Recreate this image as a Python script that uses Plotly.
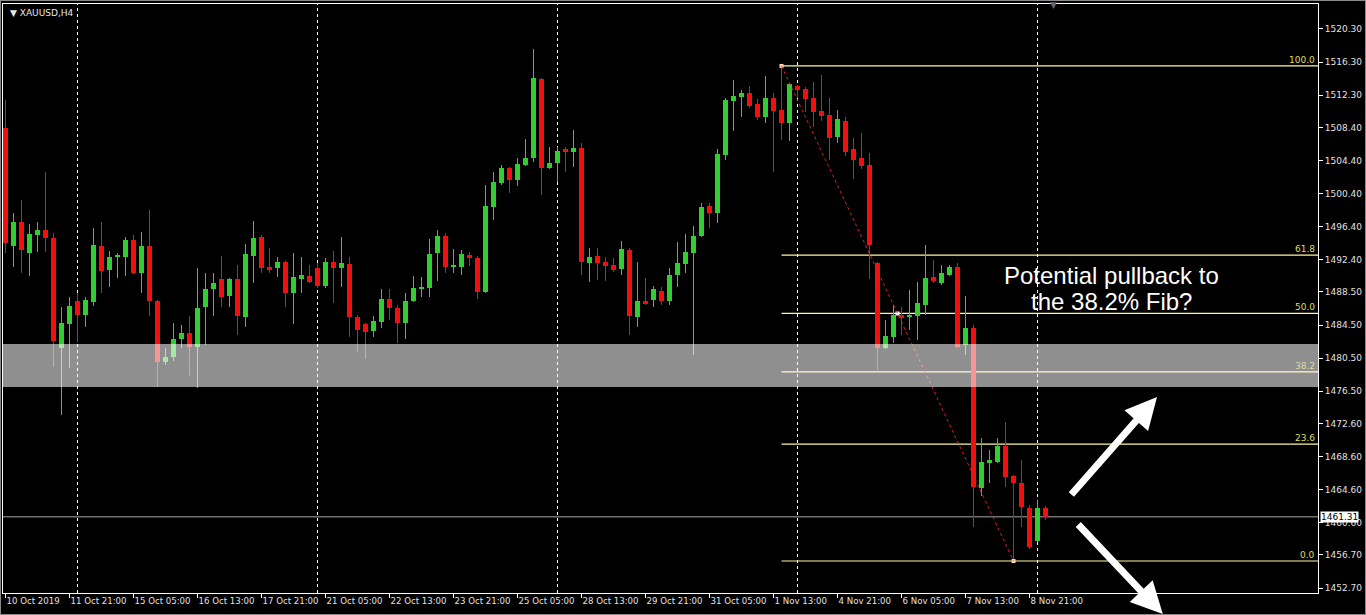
import plotly.graph_objects as go

# ---------------- data (XAUUSD H4) ----------------
opens = [1508.33, 1494.06, 1496.96, 1493.21, 1495.39, 1495.99, 1495.03, 1481.73, 1484.63, 1487.41,
         1485.72, 1487.29, 1494.06, 1491.16, 1492.73, 1492.73, 1494.79, 1490.80, 1494.06, 1487.41,
         1480.03, 1480.64, 1482.82, 1483.54, 1481.85, 1486.68, 1488.86, 1490.07, 1488.01, 1490.07,
         1485.48, 1492.85, 1495.15, 1491.52, 1491.40, 1492.12, 1488.38, 1490.07, 1490.43, 1491.40,
         1489.22, 1492.12, 1491.40, 1491.88, 1485.48, 1484.63, 1483.78, 1484.87, 1487.65, 1486.56,
         1484.75, 1487.41, 1488.86, 1488.98, 1493.21, 1495.27, 1491.52, 1491.52, 1492.97, 1492.61,
         1488.50, 1498.78, 1501.68, 1503.49, 1502.04, 1503.86, 1504.70, 1514.25, 1503.49, 1504.10,
         1505.79, 1505.43, 1505.91, 1492.00, 1492.85, 1492.12, 1491.76, 1491.28, 1493.58, 1485.48,
         1487.41, 1487.53, 1488.62, 1487.41, 1490.55, 1491.88, 1493.21, 1495.27, 1498.90, 1498.05,
         1505.06, 1511.59, 1512.08, 1512.56, 1511.23, 1509.66, 1511.96, 1510.50, 1508.93, 1513.41,
         1513.05, 1511.96, 1510.38, 1509.90, 1507.24, 1509.18, 1505.79, 1504.70, 1503.86, 1492.00,
         1481.73, 1483.06, 1485.72, 1485.48, 1485.60, 1486.93, 1490.31, 1489.59, 1490.55, 1491.52,
         1482.09, 1484.14, 1464.80, 1467.82, 1467.94, 1469.88, 1466.25, 1465.40, 1462.38, 1458.39,
         1462.38]
highs = [1511.71, 1498.05, 1499.62, 1496.72, 1496.96, 1503.01, 1495.63, 1486.68, 1487.89, 1488.38,
         1487.89, 1496.24, 1496.96, 1493.46, 1493.21, 1495.15, 1495.39, 1495.75, 1498.41, 1487.53,
         1481.73, 1484.75, 1484.51, 1485.60, 1491.40, 1490.80, 1490.80, 1492.85, 1490.19, 1491.76,
         1494.30, 1497.08, 1495.39, 1493.82, 1492.73, 1492.30, 1493.21, 1492.73, 1491.76, 1492.00,
         1492.61, 1493.46, 1495.15, 1492.73, 1485.72, 1484.75, 1485.60, 1488.86, 1488.86, 1486.93,
         1488.38, 1490.43, 1490.31, 1494.91, 1495.99, 1495.63, 1493.70, 1493.58, 1493.33, 1492.85,
         1501.44, 1503.01, 1503.86, 1503.61, 1504.70, 1507.00, 1517.88, 1514.38, 1506.03, 1506.03,
         1506.03, 1508.09, 1506.51, 1493.82, 1493.82, 1492.73, 1492.61, 1494.67, 1493.82, 1492.12,
         1490.19, 1489.22, 1489.10, 1491.40, 1494.55, 1495.51, 1496.48, 1499.26, 1499.26, 1505.79,
         1511.95, 1514.13, 1512.92, 1513.41, 1511.84, 1514.62, 1512.56, 1515.83, 1513.77, 1513.53,
         1513.29, 1513.89, 1514.74, 1511.96, 1510.50, 1509.66, 1507.12, 1507.72, 1505.31, 1492.12,
         1485.11, 1486.93, 1486.68, 1488.74, 1489.71, 1494.18, 1492.37, 1491.76, 1491.76, 1492.00,
         1488.01, 1484.51, 1470.84, 1469.39, 1470.84, 1472.78, 1466.37, 1468.18, 1462.74, 1463.35,
         1462.62]
lows = [1493.21, 1491.52, 1490.80, 1490.43, 1493.33, 1493.33, 1479.43, 1473.62, 1479.31, 1482.45,
        1484.27, 1486.80, 1488.38, 1489.10, 1490.19, 1490.43, 1490.68, 1488.38, 1485.60, 1477.01,
        1479.67, 1480.15, 1481.73, 1478.34, 1476.89, 1482.09, 1485.60, 1486.68, 1486.68, 1483.30,
        1484.27, 1489.59, 1490.80, 1490.80, 1490.31, 1486.68, 1484.63, 1488.38, 1489.59, 1488.98,
        1488.98, 1487.17, 1489.10, 1483.06, 1481.24, 1480.40, 1483.06, 1484.14, 1485.11, 1482.33,
        1482.82, 1487.29, 1487.89, 1487.89, 1489.83, 1490.80, 1490.80, 1490.55, 1491.64, 1487.65,
        1488.38, 1497.20, 1501.44, 1500.47, 1501.32, 1503.73, 1504.22, 1500.23, 1503.37, 1501.80,
        1503.01, 1503.61, 1490.55, 1489.71, 1489.95, 1489.83, 1490.92, 1490.55, 1483.30, 1484.27,
        1486.93, 1486.68, 1486.93, 1486.93, 1489.10, 1490.80, 1480.88, 1495.15, 1496.24, 1496.84,
        1504.46, 1507.97, 1509.66, 1510.75, 1509.30, 1508.93, 1503.01, 1506.88, 1506.76, 1511.96,
        1510.26, 1508.45, 1509.18, 1504.46, 1506.51, 1504.94, 1502.16, 1503.37, 1490.07, 1479.07,
        1481.60, 1482.33, 1483.30, 1483.90, 1482.69, 1485.72, 1489.59, 1489.35, 1490.43, 1481.73,
        1480.88, 1460.08, 1463.83, 1465.40, 1467.82, 1464.92, 1455.97, 1460.08, 1457.42, 1458.27,
        1460.93]
closes = [1494.42, 1496.96, 1493.58, 1495.50, 1495.99, 1495.03, 1482.57, 1484.75, 1486.80, 1485.72,
          1487.53, 1494.18, 1491.04, 1492.73, 1492.97, 1494.79, 1490.80, 1494.06, 1487.41, 1480.03,
          1480.64, 1482.82, 1483.54, 1481.85, 1486.56, 1488.86, 1489.59, 1487.89, 1490.07, 1485.60,
          1493.09, 1495.03, 1491.40, 1491.16, 1492.12, 1488.38, 1490.31, 1490.55, 1489.71, 1489.22,
          1492.12, 1491.40, 1492.00, 1485.48, 1483.90, 1483.66, 1484.99, 1487.65, 1486.56, 1484.75,
          1487.41, 1488.98, 1488.98, 1493.09, 1495.27, 1491.52, 1491.76, 1493.09, 1492.61, 1488.50,
          1498.90, 1501.80, 1503.49, 1502.04, 1503.97, 1504.70, 1514.38, 1503.49, 1504.10, 1505.55,
          1505.43, 1505.91, 1492.12, 1492.73, 1492.00, 1491.64, 1491.16, 1493.70, 1485.60, 1487.41,
          1487.05, 1488.86, 1487.41, 1490.55, 1492.00, 1493.33, 1495.27, 1498.78, 1498.05, 1505.18,
          1511.71, 1512.20, 1512.56, 1510.99, 1509.66, 1511.96, 1510.38, 1508.93, 1513.65, 1512.92,
          1511.84, 1510.26, 1509.78, 1507.12, 1509.42, 1505.43, 1504.46, 1503.73, 1494.18, 1481.73,
          1483.18, 1485.72, 1485.35, 1485.72, 1487.17, 1490.19, 1489.83, 1490.80, 1491.52, 1481.85,
          1484.14, 1464.92, 1467.94, 1468.18, 1469.88, 1466.13, 1465.40, 1462.50, 1457.67, 1462.38,
          1461.31]

time_labels = ["10 Oct 2019", "11 Oct 21:00", "15 Oct 05:00", "16 Oct 13:00", "17 Oct 21:00",
               "21 Oct 05:00", "22 Oct 13:00", "23 Oct 21:00", "25 Oct 05:00", "28 Oct 13:00",
               "29 Oct 21:00", "31 Oct 05:00", "1 Nov 13:00", "4 Nov 21:00", "6 Nov 05:00",
               "7 Nov 13:00", "8 Nov 21:00"]
time_label_bars = [0, 8, 16, 24, 32, 40, 48, 56, 64, 72, 80, 88, 96, 104, 112, 120, 128]
price_ticks = [1520.30, 1516.30, 1512.30, 1508.40, 1504.40, 1500.40, 1496.40, 1492.40, 1488.50,
               1484.50, 1480.50, 1476.50, 1472.60, 1468.60, 1464.60, 1460.60, 1456.70, 1452.70]
grid_bars = [9, 39, 69, 99, 129]

fib_ratios = [0.0, 23.6, 38.2, 50.0, 61.8, 100.0]
fib_labels = ["0.0", "23.6", "38.2", "50.0", "61.8", "100.0"]
fib_high_bar = 97
fib_low_bar = 126
zone_low, zone_high = 1477.0, 1482.2
current_price = 1461.31
symbol_title = "XAUUSD,H4"
note_lines = ["Potential pullback to", "the 38.2% Fib?"]
note_line_prices = [1490.45, 1487.30]
note_center_bar = 138.2

# ---------------- figure ----------------
GREEN = "#32cd32"
RED = "#f01010"
n = len(opens)
bars = list(range(n))
X_RANGE = [-0.3125, 164.06]
Y_RANGE = [1452.10, 1523.32]

fig = go.Figure()

for up, col in ((True, GREEN), (False, RED)):
    wx, wy = [], []
    for i in bars:
        if (closes[i] >= opens[i]) == up:
            wx += [i, i, None]
            wy += [lows[i], highs[i], None]
    fig.add_trace(go.Scatter(x=wx, y=wy, mode="lines", line=dict(color=col, width=1),
                             hoverinfo="skip", showlegend=False))

body_base = [min(o, c) for o, c in zip(opens, closes)]
body_h = [max(abs(c - o), 0.15) for o, c in zip(opens, closes)]
body_col = [GREEN if c >= o else RED for o, c in zip(opens, closes)]
fig.add_trace(go.Bar(x=bars, y=body_h, base=body_base, width=0.68,
                     marker=dict(color=body_col, line=dict(width=0)),
                     showlegend=False, hoverinfo="skip"))

shapes = []
for g in grid_bars:
    shapes.append(dict(type="line", xref="x", yref="paper", x0=g, x1=g, y0=0, y1=1,
                       line=dict(color="white", width=1, dash="3px,3px"), layer="below"))
shapes.append(dict(type="line", xref="paper", yref="y", x0=0, x1=1, y0=current_price,
                   y1=current_price, line=dict(color="#a8a8a8", width=1), layer="below"))
fib_high = highs[fib_high_bar]
fib_low = lows[fib_low_bar]
FIB_COL = "#fff7a0"
FIB_TXT = "#dede60"
for r in fib_ratios:
    lv = fib_low + (fib_high - fib_low) * r / 100.0
    shapes.append(dict(type="line", xref="x", yref="y", x0=fib_high_bar, x1=X_RANGE[1],
                       y0=lv, y1=lv, line=dict(color=FIB_COL, width=1.2), layer="below"))
shapes.append(dict(type="line", xref="x", yref="y", x0=fib_high_bar, y0=fib_high,
                   x1=fib_low_bar, y1=fib_low, line=dict(color="#e02020", width=1, dash="dot"),
                   layer="above"))
shapes.append(dict(type="rect", xref="paper", yref="y", x0=0, x1=1, y0=zone_low, y1=zone_high,
                   fillcolor="rgba(255,255,255,0.56)", line=dict(width=0), layer="above"))
shapes.append(dict(type="rect", xref="paper", yref="paper", x0=-3/1315, x1=1363/1315,
                   y0=-22/589, y1=1+4/589, line=dict(color="#8a8a8a", width=2),
                   fillcolor="rgba(0,0,0,0)", layer="above"))

fig.add_trace(go.Scatter(x=[fib_high_bar, fib_low_bar], y=[fib_high, fib_low], mode="markers",
                         marker=dict(symbol="square", size=4, color="#ffd8b0"),
                         showlegend=False, hoverinfo="skip"))
fig.add_trace(go.Scatter(x=[(fib_high_bar + fib_low_bar) / 2], y=[(fib_high + fib_low) / 2],
                         mode="markers", marker=dict(symbol="square", size=4, color="white"),
                         showlegend=False, hoverinfo="skip"))

annotations = []
for r, lab in zip(fib_ratios, fib_labels):
    lv = fib_low + (fib_high - fib_low) * r / 100.0
    col = "#dadaa8" if lab == "38.2" else FIB_TXT
    annotations.append(dict(xref="paper", yref="y", x=1, y=lv, text=lab, showarrow=False,
                            xanchor="right", yanchor="bottom", xshift=-1, yshift=-1,
                            font=dict(family="DejaVu Sans", size=9, color=col)))
annotations.append(dict(xref="paper", yref="y", x=1, y=current_price, text=str(current_price),
                        showarrow=False, xanchor="left", xshift=2, bgcolor="white",
                        borderpad=0, font=dict(family="DejaVu Sans", size=9, color="black")))
annotations.append(dict(xref="paper", yref="paper", x=0.0038, y=1, yshift=-2,
                        text="▼ " + symbol_title, showarrow=False, xanchor="left",
                        yanchor="top", font=dict(family="DejaVu Sans", size=9, color="#e8e8e8")))
annotations.append(dict(xref="paper", yref="paper", x=0.7985, y=1, yshift=-1, text="▼",
                        showarrow=False, xanchor="center", yanchor="middle",
                        font=dict(family="DejaVu Sans", size=9, color="#6a6a6a")))
for line_txt, line_p in zip(note_lines, note_line_prices):
    annotations.append(dict(xref="x", yref="y", x=note_center_bar, y=line_p, text=line_txt,
                            showarrow=False, xanchor="center", yanchor="middle",
                            font=dict(family="Liberation Sans", size=24, color="white")))
annotations.append(dict(xref="paper", yref="paper", x=0.8776, y=0.3328, ax=-87, ay=99, text="",
                        showarrow=True, arrowhead=2, arrowsize=0.9, arrowwidth=7,
                        arrowcolor="white"))
annotations.append(dict(xref="paper", yref="paper", x=0.882, y=-0.0424, ax=-86, ay=-95, text="",
                        showarrow=True, arrowhead=2, arrowsize=0.9, arrowwidth=7,
                        arrowcolor="white"))

AX_FONT = dict(family="DejaVu Sans", size=9, color="#e0e0e0")
fig.update_layout(
    width=1366, height=615,
    margin=dict(l=3, r=48, t=4, b=22, autoexpand=False),
    paper_bgcolor="black", plot_bgcolor="black",
    showlegend=False, bargap=0, hovermode=False,
    shapes=shapes, annotations=annotations,
    xaxis=dict(range=X_RANGE, showgrid=False, zeroline=False, showline=True, linecolor="white",
               linewidth=1, mirror=True, ticks="outside", ticklen=4, tickcolor="white",
               tickvals=time_label_bars, ticktext=time_labels, ticklabelposition="outside right",
               tickangle=0, automargin=False, tickfont=dict(family="DejaVu Sans", size=8.6,
                                                              color="#e0e0e0"),
               fixedrange=True),
    yaxis=dict(range=Y_RANGE, side="right", showgrid=False, zeroline=False, showline=True,
               linecolor="white", linewidth=1, mirror=True, ticks="outside", ticklen=4,
               tickcolor="white", tickvals=price_ticks, automargin=False,
               ticktext=[f"{v:.2f}" for v in price_ticks], tickfont=AX_FONT, fixedrange=True),
)

fig.write_html("out.html", config={"displayModeBar": False},
               post_script="document.body.style.margin='0';document.body.style.overflow='hidden';")
